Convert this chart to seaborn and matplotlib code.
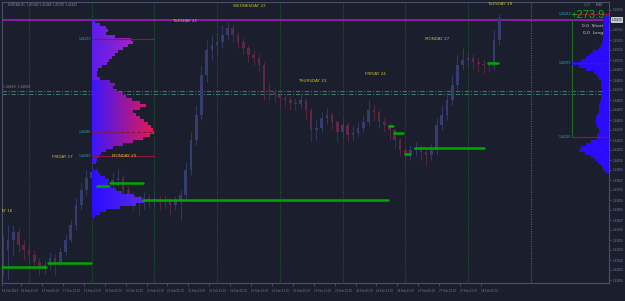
import numpy as np
import pandas as pd
import matplotlib
matplotlib.use("Agg")
import matplotlib.pyplot as plt
import matplotlib.transforms as mtrans
from matplotlib.colors import to_rgb
import seaborn as sns

BG = "#1b1e2d"
sns.set_theme(style="ticks", rc={
    "axes.facecolor": BG, "figure.facecolor": BG, "savefig.facecolor": BG,
    "axes.edgecolor": "#4a5068", "axes.grid": False, "axes.linewidth": 0.8,
    "xtick.color": "#5a6080", "ytick.color": "#5a6080",
})
plt.rcParams["font.family"] = ["DejaVu Sans"]

# ---------------- data ----------------
symbol_title = "EURCAD,H1  1.45380 1.45468 1.45370 1.45420"

# 2-hour bars, hours counted from Fri 17 Feb 00:00 (weekends skipped)
bar_hours = list(range(-10, 181, 2))
first_open = 1.4300
closes = [1.4310, 1.4320, 1.4328, 1.4315, 1.4310, 1.4305, 1.4298, 1.4292, 1.4295, 1.4302,
          1.4298, 1.4308, 1.4320, 1.4335, 1.4355, 1.4370, 1.4382, 1.4388, 1.4380, 1.4370,
          1.4375, 1.4380, 1.4382, 1.4370, 1.4365, 1.4360, 1.4357, 1.4362, 1.4360, 1.4361,
          1.4358, 1.4360, 1.4355, 1.4360, 1.4365, 1.4390, 1.4420, 1.4445, 1.4485, 1.4510,
          1.4515, 1.4518, 1.4525, 1.4532, 1.4525, 1.4518, 1.4512, 1.4505, 1.4502, 1.4495,
          1.4470, 1.4468, 1.4465, 1.4462, 1.4460, 1.4457, 1.4456, 1.4460, 1.4450, 1.4430,
          1.4432, 1.4442, 1.4445, 1.4438, 1.4428, 1.4435, 1.4425, 1.4427, 1.4432, 1.4438,
          1.4450, 1.4448, 1.4438, 1.4435, 1.4430, 1.4420, 1.4410, 1.4405, 1.4410, 1.4412,
          1.4408, 1.4405, 1.4410, 1.4435, 1.4445, 1.4460, 1.4475, 1.4495, 1.4500, 1.4502,
          1.4498, 1.4496, 1.4495, 1.4494, 1.4520, 1.4542]
highs = [1.4325, 1.4335, 1.4335, 1.4332, 1.4320, 1.4318, 1.4310, 1.4302, 1.4300, 1.4308,
         1.4306, 1.4312, 1.4326, 1.4340, 1.4362, 1.4378, 1.4390, 1.4395, 1.4392, 1.4385,
         1.4382, 1.4388, 1.4392, 1.4385, 1.4374, 1.4368, 1.4365, 1.4368, 1.4366, 1.4366,
         1.4364, 1.4365, 1.4362, 1.4364, 1.4370, 1.4398, 1.4428, 1.4455, 1.4495, 1.4520,
         1.4525, 1.4526, 1.4535, 1.4538, 1.4536, 1.4528, 1.4522, 1.4515, 1.4510, 1.4506,
         1.4498, 1.4478, 1.4472, 1.4468, 1.4466, 1.4464, 1.4462, 1.4466, 1.4462, 1.4452,
         1.4440, 1.4448, 1.4452, 1.4448, 1.4440, 1.4442, 1.4438, 1.4434, 1.4438, 1.4445,
         1.4460, 1.4455, 1.4450, 1.4442, 1.4438, 1.4432, 1.4422, 1.4412, 1.4415, 1.4418,
         1.4415, 1.4412, 1.4416, 1.4442, 1.4455, 1.4468, 1.4485, 1.4505, 1.4512, 1.4508,
         1.4506, 1.4502, 1.4500, 1.4500, 1.4530, 1.4546]
lows = [1.4285, 1.4280, 1.4305, 1.4308, 1.4300, 1.4298, 1.4290, 1.4285, 1.4286, 1.4290,
        1.4285, 1.4294, 1.4305, 1.4318, 1.4330, 1.4350, 1.4365, 1.4375, 1.4372, 1.4362,
        1.4365, 1.4370, 1.4374, 1.4362, 1.4355, 1.4350, 1.4345, 1.4350, 1.4352, 1.4354,
        1.4350, 1.4352, 1.4345, 1.4350, 1.4340, 1.4360, 1.4385, 1.4415, 1.4440, 1.4478,
        1.4500, 1.4505, 1.4512, 1.4520, 1.4518, 1.4512, 1.4505, 1.4498, 1.4495, 1.4488,
        1.4460, 1.4460, 1.4458, 1.4452, 1.4454, 1.4450, 1.4450, 1.4452, 1.4440, 1.4418,
        1.4420, 1.4428, 1.4436, 1.4430, 1.4418, 1.4422, 1.4418, 1.4420, 1.4424, 1.4428,
        1.4435, 1.4440, 1.4432, 1.4428, 1.4420, 1.4412, 1.4404, 1.4398, 1.4400, 1.4404,
        1.4400, 1.4395, 1.4400, 1.4405, 1.4430, 1.4440, 1.4455, 1.4470, 1.4490, 1.4494,
        1.4490, 1.4488, 1.4486, 1.4488, 1.4490, 1.4515]

# market profile (TPO counts per 3-pip bin, from the top bin downward)
left_prof_top = 1.4540
prof_step = 0.0003
left_tpo = [3, 8, 14, 16, 14, 23, 39, 41, 36, 31, 26, 23, 20, 17, 15, 10, 6, 5, 5, 8,
            18, 23, 21, 25, 31, 34, 40, 48, 54, 48, 41, 44, 48, 52, 56, 59, 61, 62, 58, 51,
            41, 31, 21, 14, 9, 7, 5, 4, 0, 0, 5, 8, 13, 17, 15, 19, 24, 30, 41, 50,
            51, 44, 28, 14, 8, 3]
right_prof_top = 1.4546
right_tpo = [4, 6, 6, 6, 6, 6, 6, 6, 6, 7, 8, 10, 16, 19, 23, 28, 37, 30, 23, 15,
             12, 10, 8, 8, 8, 7, 8, 8, 8, 9, 10, 10, 10, 12, 13, 13, 13, 12, 10, 10,
             12, 12, 18, 23, 28, 30, 24, 18, 14, 11, 8, 6, 4]

# green level segments (price, start hour, end hour)
green_levels = [1.4293, 1.4297, 1.4374, 1.4377, 1.4360, 1.4434, 1.4427, 1.4406, 1.4412, 1.4497]
green_start = [-10.3, 7.3, 26.0, 31.0, 43.6, 137.8, 139.7, 144.0, 147.8, 175.7]
green_end = [6.5, 23.7, 30.2, 43.6, 137.4, 139.3, 143.2, 146.0, 174.2, 179.5]

left_poc_levels = [1.4521, 1.4428, 1.4404]
left_poc_labels = ["1.45210", "1.44280", "1.44040"]
right_poc_levels = [1.4546, 1.4497, 1.4423]
right_poc_labels = ["1.45460", "1.44970", "1.44230"]
pivot_lines = [1.4469, 1.4466]
purple_level = 1.4540
current_price = "1.45420"

day_starts = [0, 24, 48, 72, 96, 120, 144, 168]
next_day_start = 192
day_labels = ["THURSDAY 16", "FRIDAY 17", "MONDAY 20", "TUESDAY 21", "WEDNESDAY 22",
              "THURSDAY 23", "FRIDAY 24", "MONDAY 27", "TUESDAY 28"]

time_ticks = [-10.3, -3, 5, 13, 21, 29, 37, 45, 53, 61, 69, 77, 85, 93, 101, 109, 117,
              125, 133, 141, 149, 157, 165, 173]
time_labels = ["16 Feb 2023", "16 Feb 21:00", "17 Feb 05:00", "17 Feb 13:00", "17 Feb 21:00",
               "20 Feb 05:00", "20 Feb 13:00", "20 Feb 21:00", "21 Feb 05:00", "21 Feb 13:00",
               "21 Feb 21:00", "22 Feb 05:00", "22 Feb 13:00", "22 Feb 21:00", "23 Feb 05:00",
               "23 Feb 13:00", "23 Feb 21:00", "24 Feb 05:00", "24 Feb 13:00", "24 Feb 21:00",
               "27 Feb 05:00", "27 Feb 13:00", "27 Feb 21:00", "28 Feb 05:00"]

# ---------------- figure ----------------
W, H = 625, 301
fig = plt.figure(figsize=(W / 100, H / 100), dpi=100)
ax = fig.add_axes([2 / W, 18 / H, 607 / W, 281 / H])
XMIN, XMAX = -10.33, 222.0
ax.set_xlim(XMIN, XMAX)
ax.set_ylim(1.4277, 1.4558)
HOUR_PX = 2.6125
tpo_unit = 1 / HOUR_PX  # one TPO count drawn as one pixel wide

# separators
for d in day_starts:
    ax.axvline(d, color="#1e5a2c", lw=0.8, ls=(0, (1, 1.2)), zorder=1)
ax.axvline(next_day_start, color="#5a5f70", lw=0.8, ls=(0, (1, 1.2)), zorder=1)

# pivot dash-dot lines
for p in pivot_lines:
    ax.axhline(p, color="#3c7468", lw=0.8, ls=(0, (4, 1.5, 1, 1.5)), zorder=1)
ax.text(XMIN + 0.5, pivot_lines[0] + 0.00015, "1.44690  1.44660", fontsize=2.2,
        color="#7f9090", ha="left", va="bottom", zorder=5)

# purple line
ax.axhline(purple_level, color="#8a1fa8", lw=1.4, zorder=2)

# candles
df = pd.DataFrame({"h": bar_hours, "close": closes, "high": highs, "low": lows})
df["open"] = [first_open] + closes[:-1]
df["top"] = df[["open", "close"]].max(axis=1)
df["bot"] = df[["open", "close"]].min(axis=1)
df["high"] = df[["high", "top"]].max(axis=1)
df["low"] = df[["low", "bot"]].min(axis=1)
BULL, BEAR = "#353d6e", "#5e2842"
cols = np.where(df["close"] >= df["open"], BULL, BEAR)
ax.vlines(df["h"], df["low"], df["high"], colors=cols, lw=0.6, zorder=2)
ax.bar(df["h"], (df["top"] - df["bot"]).clip(lower=0.00008), bottom=df["bot"],
       width=1.0, color=cols, linewidth=0, zorder=2)


def mix(c1, c2, f):
    a, b = np.array(to_rgb(c1)), np.array(to_rgb(c2))
    return tuple(a + (b - a) * f)


# left profile with horizontal gradient
ys, lefts, widths, pcols = [], [], [], []
for i, c in enumerate(left_tpo):
    price = left_prof_top - prof_step * (i + 0.5)
    if price > 1.4480:
        lc, tc, span = "#5a1cf0", "#a024c4", 40
    elif price > 1.4395:
        lc, tc, span = "#3a16ff", "#dc185a", 58
    else:
        lc, tc, span = "#2a0cff", "#5a28ea", 50
    for j in range(c):
        f = min(1.0, (j + 0.5) / span)
        ys.append(price)
        lefts.append(day_starts[1] + j * tpo_unit)
        widths.append(tpo_unit * 1.05)
        pcols.append(mix(lc, tc, f))
ax.barh(ys, widths, left=lefts, height=prof_step * 1.02, color=pcols,
        linewidth=0, antialiased=False, zorder=3)

# right profile
r_ys = [right_prof_top - prof_step * (i + 0.5) for i in range(len(right_tpo))]
r_w = np.array(right_tpo) * tpo_unit
ax.barh(r_ys, r_w, left=XMAX - r_w, height=prof_step * 1.02, color="#2c0aff",
        linewidth=0, antialiased=False, zorder=3)

# POC lines of left profile
for p, lab, ls in zip(left_poc_levels, left_poc_labels, ["-", (0, (3, 1.5)), "-"]):
    ax.plot([day_starts[1], day_starts[2]], [p, p], color="#8a1838", lw=0.9, ls=ls, zorder=4)
    ax.text(day_starts[1] - 0.2, p, lab, fontsize=2.2, color="#19b5c8",
            ha="right", va="center", zorder=5)

# right side levels
x_rv = 207.8
for p, lab, col, ls in zip(right_poc_levels, right_poc_labels,
                           ["#8a1838", "#303858", "#8a1838"], ["-", (0, (3, 1.5)), "-"]):
    ax.plot([x_rv, XMAX], [p, p], color=col, lw=0.9, ls=ls, zorder=4)
    ax.text(x_rv - 0.3, p, lab, fontsize=2.2, color="#19b5c8", ha="right",
            va="center", zorder=5)
ax.plot([x_rv, x_rv], [purple_level, right_poc_levels[2]], color="#1d6a24", lw=0.8, zorder=2)

# green level lines via seaborn
gl = pd.DataFrame({
    "id": list(range(len(green_levels))) * 2,
    "h": green_start + green_end,
    "price": green_levels + green_levels,
})
sns.lineplot(data=gl, x="h", y="price", units="id", estimator=None, color="#00a800",
             lw=1.8, ax=ax, zorder=4, legend=False)

# day labels
day_pos = [(-6.5, 1.4349, "right"), (12.6, 1.4403, "center"), (36.4, 1.4404, "center"),
           (59.7, 1.4539, "center"), (84.2, 1.4554, "center"), (108.3, 1.4479, "center"),
           (132.4, 1.4486, "center"), (156.2, 1.4521, "center"), (180.3, 1.4556, "center")]
for lab, (hx, py, ha) in zip(day_labels, day_pos):
    ax.text(hx, py, lab, fontsize=3.0, color="#c8c020", ha=ha, va="center",
            zorder=6, clip_on=(ha == "right"))

# axes, ticks
ax.set_xlabel("")
ax.set_ylabel("")
ax.set_xticks(time_ticks)
ax.set_xticklabels(time_labels, fontsize=1.9, color="#7a80a0", ha="left")
ax.tick_params(axis="x", length=2, width=0.5, pad=2.5)
ax.yaxis.tick_right()
yt = np.round(np.arange(1.4280, 1.45505, 0.0010), 4)
ax.set_yticks(yt)
ax.set_yticklabels(["" if abs(v - purple_level) < 0.0004 else f"{v:.5f}" for v in yt],
                   fontsize=1.9, color="#7a80a0")
ax.tick_params(axis="y", length=1.5, width=0.5, pad=1.0)
for s in ax.spines.values():
    s.set_color("#4a5068")

# current price tag
trans = mtrans.blended_transform_factory(ax.transAxes, ax.transData)
ax.text(1.004, purple_level, current_price, transform=trans, fontsize=1.9, color="#202030",
        ha="left", va="center", zorder=7, clip_on=False,
        bbox=dict(boxstyle="square,pad=0.25", fc="#c8c8d0", ec="none"))

# top texts
fig.text(8 / W, 1 - 5 / H, symbol_title, fontsize=2.1, color="#8a90a8", ha="left", va="center")
fig.text(591 / W, 1 - 5 / H, "0.0", fontsize=3.2, color="#2aa02a", ha="right", va="center")
fig.text(603 / W, 1 - 5 / H, "0.0", fontsize=3.2, color="#b0b0b0", ha="right", va="center")
fig.text(605 / W, 1 - 15 / H, "+273.9", fontsize=8, color="#12b012", ha="right", va="center",
         family=["Liberation Sans", "DejaVu Sans"])
fig.text(603 / W, 1 - 26 / H, "0.0  Short", fontsize=3.2, color="#d0d0d0", ha="right", va="center")
fig.text(603 / W, 1 - 33 / H, "0.0  Long", fontsize=3.2, color="#d0d0d0", ha="right", va="center")

fig.savefig("out.png", dpi=100)
